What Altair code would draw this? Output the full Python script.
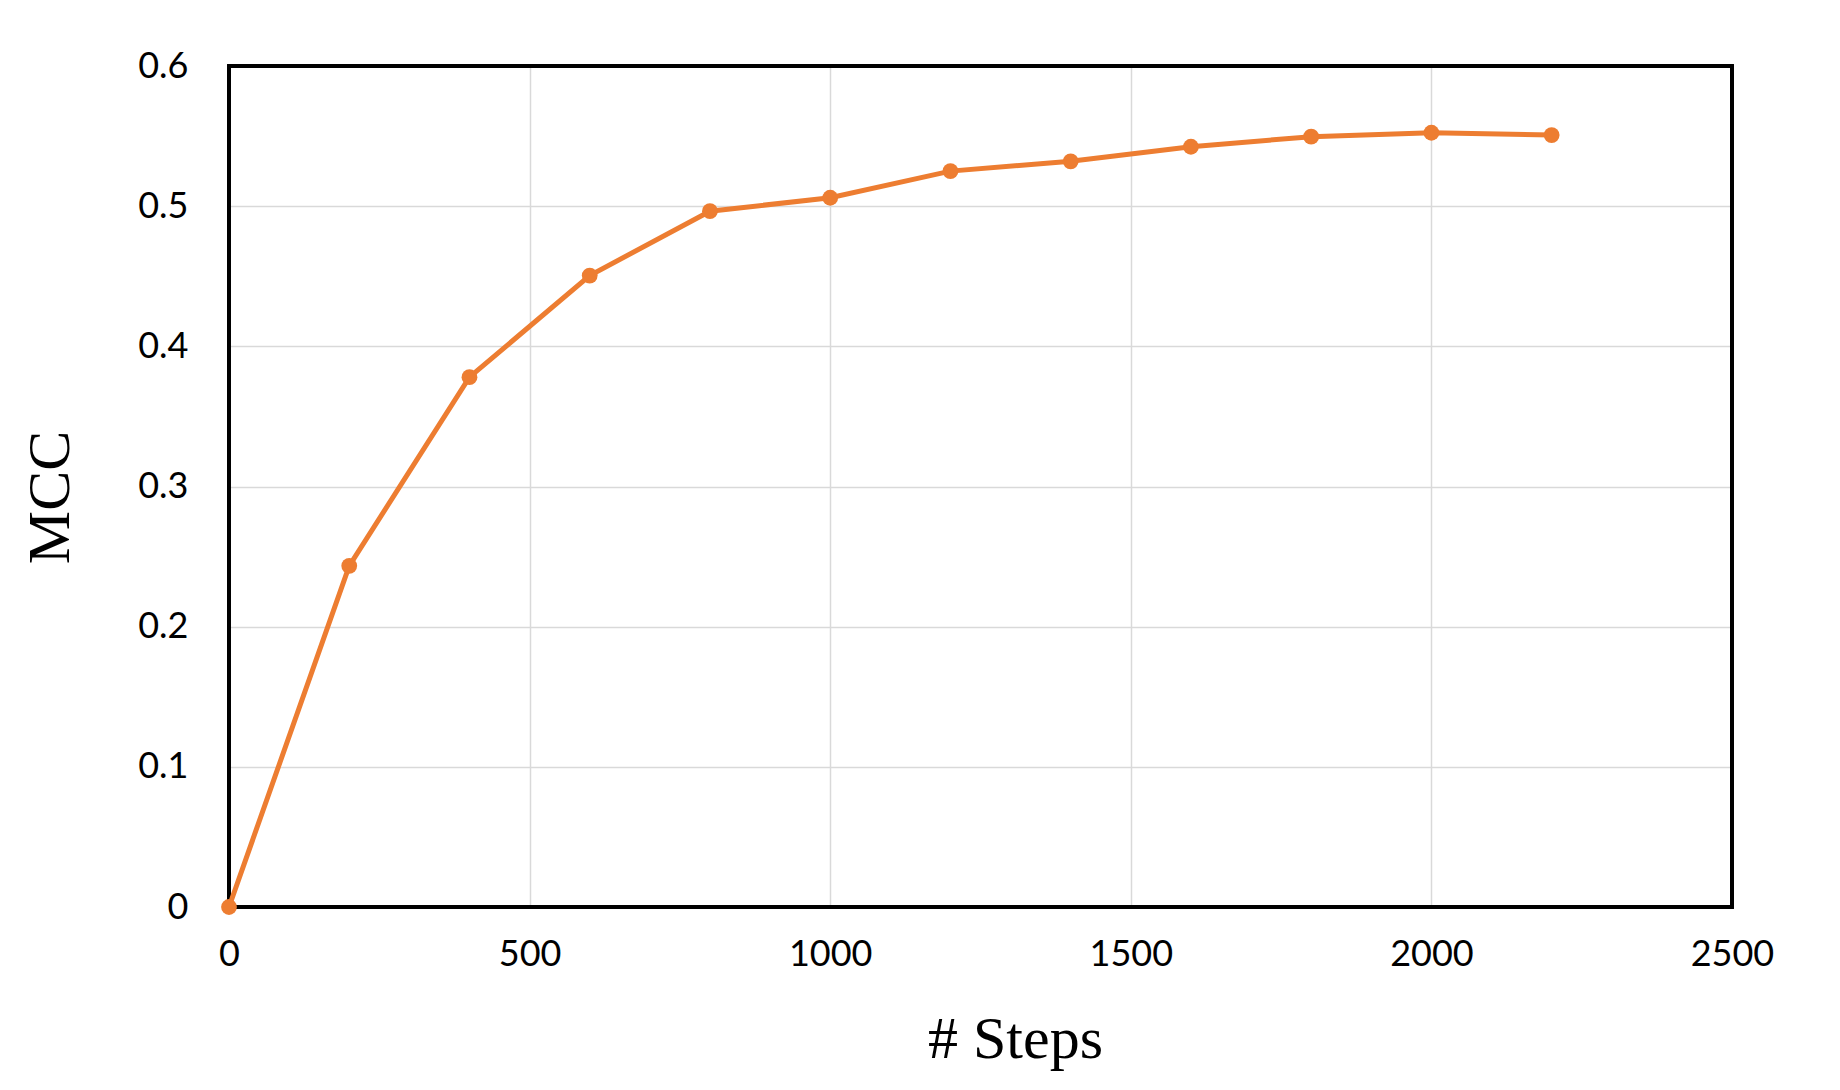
import altair as alt
import pandas as pd

steps = [0, 200, 400, 600, 800, 1000, 1200, 1400, 1600, 1800, 2000, 2200]
mcc = [0.0, 0.2434, 0.378, 0.4505, 0.4964, 0.506, 0.525, 0.532, 0.5424, 0.5496, 0.5524, 0.5507]

df = pd.DataFrame({"steps": steps, "mcc": mcc})

W, H = 1503, 841
color = "#ED7D31"

x = alt.X("steps:Q",
          scale=alt.Scale(domain=[0, 2500], nice=False),
          axis=alt.Axis(values=[0, 500, 1000, 1500, 2000, 2500], title="# Steps",
                        format="d",
                        labelFont="Lato", labelFontSize=36, labelColor="#000",
                        labelPadding=30, ticks=False, tickSize=0, domain=False,
                        gridColor="#d9d9d9", gridWidth=1.5,
                        titleFont="Liberation Serif", titleFontSize=60, titleFontWeight="normal",
                        titleColor="#000", titleX=786, titleY=150, titleBaseline="alphabetic",
                        titleAlign="center", labelFlush=False))
y = alt.Y("mcc:Q",
          scale=alt.Scale(domain=[0, 0.6], nice=False),
          axis=alt.Axis(values=[0, 0.1, 0.2, 0.3, 0.4, 0.5, 0.6], title="MCC",
                        labelFont="Lato", labelFontSize=36, labelColor="#000",
                        labelPadding=41, ticks=False, tickSize=0, domain=False,
                        gridColor="#d9d9d9", gridWidth=1.5,
                        labelExpr="datum.value == 0 ? '0' : format(datum.value, '.1f')",
                        titleFont="Liberation Serif", titleFontSize=60, titleFontWeight="normal",
                        titleColor="#000", titleX=-161, titleY=431, titleAngle=-90,
                        titleBaseline="alphabetic", titleAlign="center", labelFlush=False))

base = alt.Chart(df)
frame = base.mark_rect(fill=None, stroke="#000", strokeWidth=3).encode(
    x=alt.value(0), x2=alt.value(W), y=alt.value(0), y2=alt.value(H))
line = base.mark_line(color=color, strokeWidth=5, clip=False).encode(x=x, y=y)
pts = base.mark_circle(color=color, size=250, opacity=1, clip=False).encode(x="steps:Q", y="mcc:Q")

chart = (frame + line + pts).properties(
    width=W, height=H,
    background="white",
    autosize=alt.AutoSizeParams(type="none"),
    padding={"left": 221, "top": 58, "right": 90, "bottom": 170},
).configure_view(stroke=None)

chart.save("out.html", embed_options={"renderer": "svg", "actions": False})
